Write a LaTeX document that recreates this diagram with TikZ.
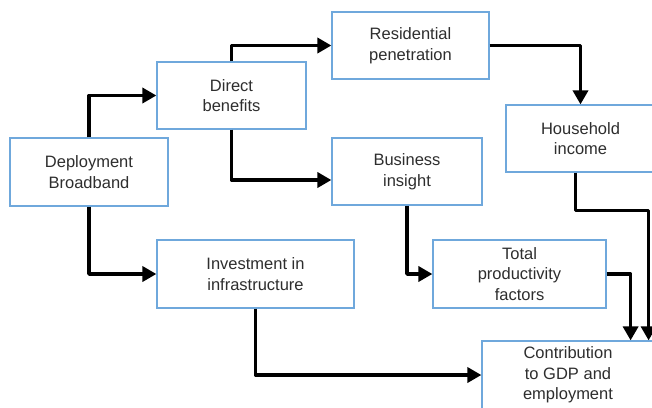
\documentclass[tikz,border=0pt]{standalone}
\usepackage{fontspec}
\setmainfont{Liberation Sans}
\usetikzlibrary{arrows.meta}
\definecolor{boxblue}{HTML}{6FA8DC}
\definecolor{txt}{HTML}{2E2E2E}
\begin{document}
\begin{tikzpicture}[x=1pt,y=-1pt,
  box/.style={draw=boxblue,line width=1.2pt,fill=white,text=txt,align=center,
    inner sep=0pt,font=\fontsize{16.5}{20.5}\selectfont},
  arr/.style={line width=3.5pt,line join=round,-{Triangle[length=14pt,width=15pt]}}]
\useasboundingbox (0,0) rectangle (652,407);
\node[box,minimum width=158pt,minimum height=68pt] (deploy) at (89,172) {Deployment\\Broadband};
\node[box,minimum width=149pt,minimum height=67pt] (direct) at (231.5,95.5) {Direct\\benefits};
\node[box,minimum width=157pt,minimum height=67pt] (resid) at (410.5,45.5) {Residential\\penetration};
\node[box,minimum width=149pt,minimum height=67pt] (house) at (580.5,138.5) {Household\\income};
\node[box,minimum width=150pt,minimum height=67pt] (business) at (407,171.5) {Business\\insight};
\node[box,minimum width=197pt,minimum height=68pt] (invest) at (255.5,274) {Investment in\\infrastructure};
\node[box,minimum width=173pt,minimum height=68pt] (total) at (519.5,274) {Total\\productivity\\factors};
\node[box,minimum width=172pt,minimum height=68pt] (contrib) at (568,375) {Contribution\\to GDP and\\employment};
\draw[arr] (deploy.north) |- (direct.west);
\draw[arr] (deploy.south) |- (invest.west);
\draw[arr] (direct.north) |- (resid.west);
\draw[arr] (direct.south) |- ([yshift=-8.5pt]business.west);
\draw[arr] (resid.east) -| (house.north);
\draw[arr] ([xshift=-5pt]house.south) -- ++(0,38) -| ([xshift=-6pt]contrib.north east);
\draw[arr] (business.south) |- (total.west);
\draw[arr] (total.east) -| ([xshift=-24pt]contrib.north east);
\draw[arr] (invest.south) |- (contrib.west);
\end{tikzpicture}
\end{document}
